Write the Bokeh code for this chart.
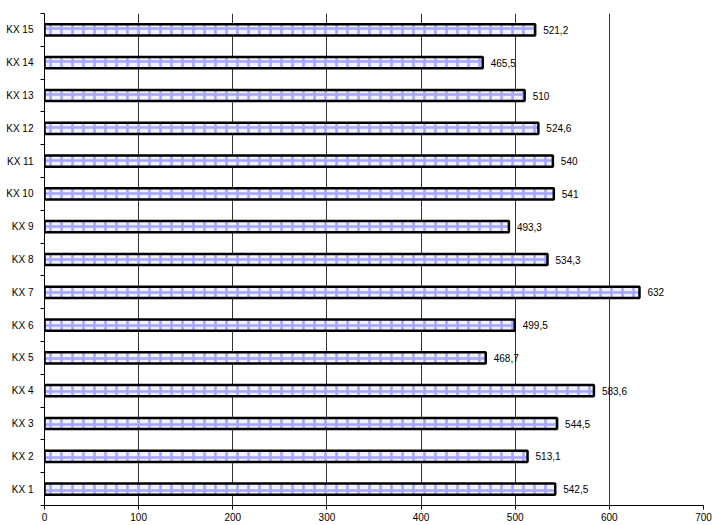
from bokeh.plotting import figure
from bokeh.models import ColumnDataSource, Range1d, FixedTicker
from bokeh.core.properties import value
from bokeh.embed import file_html
from bokeh.resources import INLINE

categories = ["KX 1", "KX 2", "KX 3", "KX 4", "KX 5", "KX 6", "KX 7", "KX 8",
              "KX 9", "KX 10", "KX 11", "KX 12", "KX 13", "KX 14", "KX 15"]
values = [542.5, 513.1, 544.5, 583.6, 468.7, 499.5, 632, 534.3,
          493.3, 541, 540, 524.6, 510, 465.5, 521.2]
value_labels = ["542,5", "513,1", "544,5", "583,6", "468,7", "499,5", "632", "534,3",
                "493,3", "541", "540", "524,6", "510", "465,5", "521,2"]
x_ticks = [0, 100, 200, 300, 400, 500, 600, 700]

pos = list(range(1, len(categories) + 1))
src = ColumnDataSource(dict(y=pos, v=values, lab=value_labels))

FONT = "Liberation Sans"

p = figure(width=712, height=525, output_backend="svg", toolbar_location=None,
           x_range=Range1d(0, 700), y_range=Range1d(0.5, len(categories) + 0.5),
           min_border_left=44, min_border_right=9, min_border_top=13, min_border_bottom=20)
p.outline_line_color = None
p.background_fill_color = "white"

p.hbar(y="y", left=0, right="v", height=0.34, source=src,
       fill_color="#f0f0ff", line_color="black", line_width=2.5,
       hatch_pattern="cross", hatch_color="#8484ff", hatch_alpha=0.7,
       hatch_scale=11, hatch_weight=2.5)

p.text(x="v", y="y", text="lab", source=src, x_offset=8,
       text_baseline="middle", text_align="left",
       text_font=value(FONT), text_font_size="10px", text_color="black")

# x axis
p.xaxis.ticker = FixedTicker(ticks=x_ticks)
p.xaxis.minor_tick_line_color = None
p.xaxis.major_tick_out = 4
p.xaxis.major_tick_in = 0
p.xaxis.major_label_standoff = 3
p.xaxis.axis_line_color = "black"
p.xaxis.major_label_text_font = FONT
p.xaxis.major_label_text_font_size = "10px"
p.xaxis.major_label_text_color = "black"

# y axis: labels at centers, ticks at boundaries
p.yaxis.ticker = FixedTicker(ticks=pos, minor_ticks=[i + 0.5 for i in range(0, len(categories) + 1)])
p.yaxis.major_label_overrides = {i + 1: c for i, c in enumerate(categories)}
p.yaxis.major_tick_out = 0
p.yaxis.major_tick_in = 0
p.yaxis.minor_tick_out = 4
p.yaxis.minor_tick_in = 0
p.yaxis.minor_tick_line_color = "black"
p.yaxis.major_label_standoff = 7
p.yaxis.axis_line_color = "black"
p.yaxis.major_label_text_font = FONT
p.yaxis.major_label_text_font_size = "10px"
p.yaxis.major_label_text_color = "black"

p.ygrid.grid_line_color = None
p.xgrid.ticker = FixedTicker(ticks=[100, 200, 300, 400, 500, 600])
p.xgrid.grid_line_color = "#333333"
p.xgrid.grid_line_width = 1

open("out.html", "w").write(file_html(p, INLINE))
